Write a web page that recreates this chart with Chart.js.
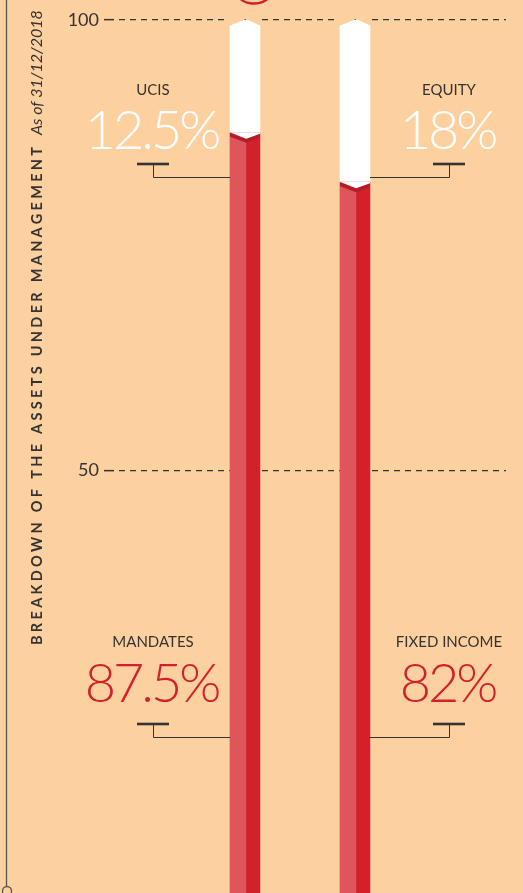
<!DOCTYPE html>
<html><head><meta charset="utf-8">
<script src="https://cdn.jsdelivr.net/npm/chart.js@4.4.1/dist/chart.umd.min.js"></script>
<style>
html,body{margin:0;padding:0;background:#FDD09F;overflow:hidden;}
#wrap{width:523px;height:940px;position:relative;}
</style></head><body>
<div id="wrap"><canvas id="c"></canvas></div>
<script>
// ---- data ----
const categories = ['Vehicle', 'Asset class'];
const bottomLabels = ['MANDATES', 'FIXED INCOME'];
const bottomValues = [87.5, 82];
const topLabels = ['UCIS', 'EQUITY'];
const topValues = [12.5, 18];
const yTicks = [0, 50, 100];
const axisTitle = 'BREAKDOWN OF THE ASSETS UNDER MANAGEMENT';
const axisSubtitle = 'As of 31/12/2018';

// ---- styles ----
const BG = '#FDD09F';
const RED_LIGHT = '#DF555B';
const RED_DARK = '#D2212B';
const RED_BAND = '#B31D26';
const INK = '#333333';

const xPos = categories.map((c, i) => i + 1);
const fmt = v => v + '%';

const deco = {
  id: 'deco',
  beforeDraw(chart) {
    const { ctx, width, height } = chart;
    ctx.save(); ctx.fillStyle = BG; ctx.fillRect(0, 0, width, height); ctx.restore();
  },
  afterDatasetsDraw(chart) {
    const ctx = chart.ctx;
    const m0 = chart.getDatasetMeta(0), m1 = chart.getDatasetMeta(1);
    ctx.save();
    m0.data.forEach((el, i) => {
      const w = el.width, L = el.x - w / 2, R = el.x + w / 2, C = L + w * 0.54;
      const yj = el.y, base = el.base;
      ctx.fillStyle = RED_DARK; ctx.fillRect(C, yj, R - C, base - yj);
      ctx.fillStyle = RED_BAND; ctx.beginPath();
      ctx.moveTo(L, yj); ctx.lineTo(C, yj + 6); ctx.lineTo(R, yj + 1);
      ctx.lineTo(R, yj + 5); ctx.lineTo(C, yj + 10); ctx.lineTo(L, yj + 4);
      ctx.closePath(); ctx.fill();
      ctx.fillStyle = '#FFFFFF'; ctx.beginPath();
      ctx.moveTo(L, yj - 0.5); ctx.lineTo(C, yj + 6); ctx.lineTo(R, yj + 1); ctx.lineTo(R, yj - 0.5);
      ctx.closePath(); ctx.fill();
      const t = m1.data[i]; const yt = t.y;
      ctx.fillStyle = BG;
      ctx.beginPath(); ctx.moveTo(L - 1, yt - 1); ctx.lineTo(C, yt - 1); ctx.lineTo(L - 1, yt + 6); ctx.closePath(); ctx.fill();
      ctx.beginPath(); ctx.moveTo(R + 1, yt - 1); ctx.lineTo(C, yt - 1); ctx.lineTo(R + 1, yt + 6); ctx.closePath(); ctx.fill();
    });
    ctx.restore();
  },
  afterDraw(chart) {
    const ctx = chart.ctx;
    const m0 = chart.getDatasetMeta(0);
    ctx.save();
    // left rule with end circle
    ctx.strokeStyle = '#555'; ctx.lineWidth = 1.3;
    ctx.beginPath(); ctx.moveTo(6.5, 0); ctx.lineTo(6.5, 886); ctx.stroke();
    ctx.beginPath(); ctx.arc(7, 891, 4.5, 0, Math.PI * 2); ctx.stroke();
    // fragment of heading above
    ctx.strokeStyle = RED_DARK; ctx.lineWidth = 2.5;
    ctx.beginPath(); ctx.ellipse(254, -5, 15, 8.5, 0, 0.15, Math.PI - 0.15); ctx.stroke();

    // rotated axis title
    ctx.save();
    ctx.translate(42, 645); ctx.rotate(-Math.PI / 2);
    ctx.fillStyle = INK; ctx.textBaseline = 'alphabetic'; ctx.textAlign = 'left';
    ctx.font = 'bold 14.5px Lato';
    ctx.letterSpacing = '0px';
    const w0 = ctx.measureText(axisTitle).width;
    const sp = (498 - w0) / (axisTitle.length - 1);
    ctx.letterSpacing = sp + 'px';
    ctx.fillText(axisTitle, 0, 0);
    ctx.letterSpacing = '0px';
    ctx.font = 'italic 16px Lato';
    ctx.fillText(axisSubtitle, 510, 0);
    ctx.restore();

    // annotations
    m0.data.forEach((el, i) => {
      const w = el.width, L = el.x - w / 2, R = el.x + w / 2;
      const left = i === 0;
      const cx = left ? L - 77 : R + 79;
      const edge = left ? L : R;
      const blocks = [
        { label: topLabels[i], value: topValues[i], color: '#FFFFFF', yl: 90, yv: 149, yb: 164, yh: 177 },
        { label: bottomLabels[i], value: bottomValues[i], color: RED_DARK, yl: 642, yv: 702, yb: 724, yh: 737 }
      ];
      blocks.forEach(b => {
        ctx.fillStyle = INK; ctx.textAlign = 'center'; ctx.textBaseline = 'middle';
        ctx.letterSpacing = '0px';
        ctx.font = '15px Lato';
        ctx.fillText(b.label, cx, b.yl);
        ctx.fillStyle = b.color; ctx.textBaseline = 'alphabetic';
        ctx.font = '300 54px Lato';
        ctx.letterSpacing = '-3px';
        ctx.fillText(fmt(b.value), cx - 1.5, b.yv);
        ctx.letterSpacing = '0px';
        ctx.fillStyle = INK; ctx.fillRect(cx - 16, b.yb - 1.3, 32, 2.6);
        ctx.strokeStyle = INK; ctx.lineWidth = 1;
        ctx.beginPath(); ctx.moveTo(cx + 0.5, b.yb); ctx.lineTo(cx + 0.5, b.yh + 0.5); ctx.lineTo(edge, b.yh + 0.5); ctx.stroke();
      });
    });
    ctx.restore();
  }
};

new Chart(document.getElementById('c'), {
  type: 'bar',
  data: {
    datasets: [
      { label: 'bottom', data: xPos.map((x, i) => ({ x, y: bottomValues[i] })), backgroundColor: RED_LIGHT, barThickness: 30, borderWidth: 0 },
      { label: 'top', data: xPos.map((x, i) => ({ x, y: topValues[i] })), backgroundColor: '#FFFFFF', barThickness: 30, borderWidth: 0 }
    ]
  },
  options: {
    responsive: true, maintainAspectRatio: false, animation: false,
    layout: { padding: { top: 20, bottom: 19, left: 0, right: 17 } },
    plugins: { legend: { display: false }, tooltip: { enabled: false } },
    scales: {
      x: { type: 'linear', min: -0.1909, max: 3.3727, offset: false, stacked: true, display: false, grid: { offset: false } },
      y: {
        min: 0, max: 100, stacked: true,
        afterFit(s) { s.width = 114; },
        afterBuildTicks(s) { s.ticks = yTicks.map(v => ({ value: v })); },
        ticks: { font: { family: 'Lato', size: 18 }, color: INK, padding: 5 },
        grid: { color: INK, lineWidth: 1.3, tickLength: 10, tickColor: INK, tickWidth: 1.5 },
        border: { display: false, dash: [6, 5], dashOffset: 6 }
      }
    }
  },
  plugins: [deco]
});
</script>
</body></html>
